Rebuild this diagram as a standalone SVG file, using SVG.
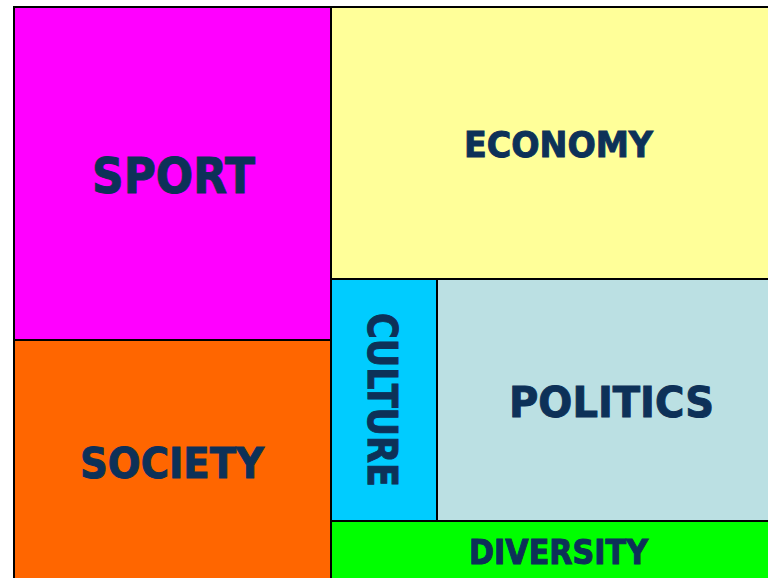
<svg xmlns="http://www.w3.org/2000/svg" width="768" height="578" viewBox="0 0 768 578">
<style>
rect{stroke:#000;stroke-width:2}
text{font-family:"DejaVu Sans","Liberation Sans",sans-serif;font-weight:bold;fill:#0D3158;stroke:#0D3158;stroke-width:1}
</style>
<rect x="0" y="0" width="768" height="578" fill="#fff" style="stroke:none"/>
<g id="sport"><rect x="14" y="7" width="317" height="333" fill="#FF00FF"/><text x="92" y="193" font-size="49" textLength="163" lengthAdjust="spacingAndGlyphs">SPORT</text></g>
<g id="economy"><rect x="331" y="7" width="480" height="272" fill="#FFFF99"/><text x="464" y="157" font-size="36" textLength="189" lengthAdjust="spacingAndGlyphs">ECONOMY</text></g>
<g id="society"><rect x="14" y="340" width="317" height="260" fill="#FF6600"/><text x="80" y="478" font-size="42" textLength="184" lengthAdjust="spacingAndGlyphs">SOCIETY</text></g>
<g id="culture"><rect x="331" y="279" width="106" height="242" fill="#00CCFF"/><text transform="translate(368,313) rotate(90)" x="0" y="0" font-size="41" textLength="174" lengthAdjust="spacingAndGlyphs">CULTURE</text></g>
<g id="politics"><rect x="437" y="279" width="374" height="242" fill="#BBE0E3"/><text x="509" y="417" font-size="42" textLength="205" lengthAdjust="spacingAndGlyphs">POLITICS</text></g>
<g id="diversity"><rect x="331" y="521" width="480" height="80" fill="#00FF00"/><text x="469" y="564" font-size="33" textLength="179" lengthAdjust="spacingAndGlyphs">DIVERSITY</text></g>
<g id="connectors"/>
</svg>
